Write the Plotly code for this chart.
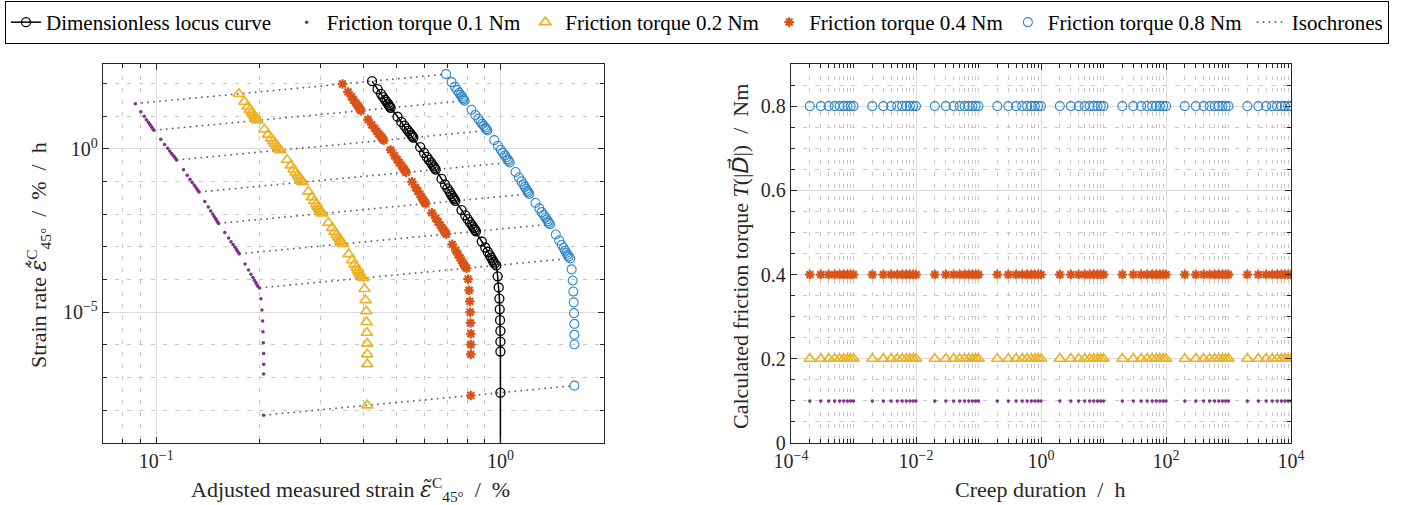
import plotly.graph_objects as go

# ------------------------------------------------------------------ data
# creep time grid (h) used in the right panel
creep_time_h = [2e-4, 3e-4, 4e-4, 5e-4, 6e-4, 7e-4, 8e-4, 9e-4, 1e-3,
                2e-3, 3e-3, 4e-3, 5e-3, 6e-3, 7e-3, 8e-3, 9e-3, 1e-2,
                2e-2, 3e-2, 4e-2, 5e-2, 6e-2, 7e-2, 8e-2, 9e-2, 1e-1,
                0.2, 0.3, 0.4, 0.5, 0.6, 0.7, 0.8, 0.9, 1.0,
                2.0, 3.0, 4.0, 5.0, 6.0, 7.0, 8.0, 9.0, 10.0,
                20.0, 30.0, 40.0, 50.0, 60.0, 70.0, 80.0, 90.0, 100.0,
                200.0, 300.0, 400.0, 500.0, 600.0, 700.0, 800.0, 900.0, 1000.0,
                2000.0, 3000.0, 4000.0, 5000.0, 6000.0, 7000.0, 8000.0, 9000.0, 10000.0]

# left panel points belong to creep times 1e-3 ... 1e4 h
strain_time_h = creep_time_h[8:]
isochrone_time_h = [1e-3, 1e-2, 1e-1, 1.0, 10.0, 100.0, 1000.0, 10000.0]

# friction torque levels (Nm) and calculated friction torque (right panel)
friction_torque_Nm = [0.1, 0.2, 0.4, 0.8]

# log10 of adjusted strain (%) and log10 of strain rate (%/h)
log10_strain_locus = [
    -0.373, -0.357, -0.347, -0.341, -0.335, -0.331, -0.327, -0.324, -0.322,
    -0.319, -0.299, -0.288, -0.279, -0.273, -0.268, -0.263, -0.259, -0.256,
    -0.253, -0.233, -0.222, -0.214, -0.208, -0.202, -0.198, -0.194, -0.191,
    -0.188, -0.171, -0.161, -0.154, -0.148, -0.144, -0.140, -0.137, -0.134,
    -0.131, -0.113, -0.102, -0.095, -0.089, -0.084, -0.080, -0.077, -0.074,
    -0.071, -0.054, -0.044, -0.037, -0.031, -0.027, -0.023, -0.020, -0.017,
    -0.012, -0.008, -0.005, -0.003, -0.002, -0.001, 0.000, 0.000, 0.000,
    0.000]
log10_rate_locus = [
    2.075, 1.830, 1.686, 1.584, 1.505, 1.441, 1.386, 1.339, 1.297,
    1.260, 0.986, 0.826, 0.712, 0.624, 0.552, 0.491, 0.438, 0.392,
    0.350, 0.055, -0.117, -0.240, -0.335, -0.412, -0.478, -0.535, -0.585,
    -0.630, -0.919, -1.088, -1.208, -1.301, -1.377, -1.441, -1.497, -1.546,
    -1.590, -1.870, -2.034, -2.150, -2.240, -2.314, -2.376, -2.430, -2.477,
    -2.520, -2.833, -3.016, -3.146, -3.247, -3.329, -3.399, -3.459, -3.512,
    -3.565, -3.900, -4.240, -4.580, -4.910, -5.240, -5.570, -5.900, -6.200,
    -7.460]
# the locus curve continues vertically at strain 1 towards vanishing strain rate
locus_end_log10_strain = 0.000
locus_end_log10_rate = -12.0

log10_strain_01 = [
    -1.061, -1.045, -1.035, -1.029, -1.023, -1.019, -1.015, -1.012, -1.010,
    -1.007, -0.987, -0.976, -0.967, -0.961, -0.956, -0.951, -0.947, -0.944,
    -0.941, -0.921, -0.910, -0.902, -0.896, -0.890, -0.886, -0.882, -0.879,
    -0.876, -0.859, -0.849, -0.842, -0.836, -0.832, -0.828, -0.825, -0.822,
    -0.819, -0.801, -0.790, -0.783, -0.777, -0.772, -0.768, -0.765, -0.762,
    -0.759, -0.742, -0.732, -0.725, -0.719, -0.715, -0.711, -0.708, -0.705,
    -0.700, -0.696, -0.693, -0.691, -0.690, -0.689, -0.688, -0.688, -0.688,
    -0.688]
log10_rate_01 = [
    1.387, 1.142, 0.998, 0.896, 0.817, 0.753, 0.698, 0.651, 0.609,
    0.572, 0.298, 0.138, 0.024, -0.064, -0.136, -0.197, -0.250, -0.296,
    -0.338, -0.633, -0.805, -0.928, -1.023, -1.100, -1.166, -1.223, -1.273,
    -1.318, -1.607, -1.776, -1.896, -1.989, -2.065, -2.129, -2.185, -2.234,
    -2.278, -2.558, -2.722, -2.838, -2.928, -3.002, -3.064, -3.118, -3.165,
    -3.208, -3.521, -3.704, -3.834, -3.935, -4.017, -4.087, -4.147, -4.200,
    -4.253, -4.588, -4.928, -5.268, -5.598, -5.928, -6.258, -6.588, -6.888,
    -8.148]

log10_strain_02 = [
    -0.760, -0.744, -0.734, -0.728, -0.722, -0.718, -0.714, -0.711, -0.709,
    -0.706, -0.686, -0.675, -0.666, -0.660, -0.655, -0.650, -0.646, -0.643,
    -0.640, -0.620, -0.609, -0.601, -0.595, -0.589, -0.585, -0.581, -0.578,
    -0.575, -0.558, -0.548, -0.541, -0.535, -0.531, -0.527, -0.524, -0.521,
    -0.518, -0.500, -0.489, -0.482, -0.476, -0.471, -0.467, -0.464, -0.461,
    -0.458, -0.441, -0.431, -0.424, -0.418, -0.414, -0.410, -0.407, -0.404,
    -0.399, -0.395, -0.392, -0.390, -0.389, -0.388, -0.387, -0.387, -0.387,
    -0.387]
log10_rate_02 = [
    1.688, 1.443, 1.299, 1.197, 1.118, 1.054, 0.999, 0.952, 0.910,
    0.873, 0.599, 0.439, 0.325, 0.237, 0.165, 0.104, 0.051, 0.005,
    -0.037, -0.332, -0.504, -0.627, -0.722, -0.799, -0.865, -0.922, -0.972,
    -1.017, -1.306, -1.475, -1.595, -1.688, -1.764, -1.828, -1.884, -1.933,
    -1.977, -2.257, -2.421, -2.537, -2.627, -2.701, -2.763, -2.817, -2.864,
    -2.907, -3.220, -3.403, -3.533, -3.634, -3.716, -3.786, -3.846, -3.899,
    -3.952, -4.287, -4.627, -4.967, -5.297, -5.627, -5.957, -6.287, -6.587,
    -7.847]

log10_strain_04 = [
    -0.459, -0.443, -0.433, -0.427, -0.421, -0.417, -0.413, -0.410, -0.408,
    -0.405, -0.385, -0.374, -0.365, -0.359, -0.354, -0.349, -0.345, -0.342,
    -0.339, -0.319, -0.308, -0.300, -0.294, -0.288, -0.284, -0.280, -0.277,
    -0.274, -0.257, -0.247, -0.240, -0.234, -0.230, -0.226, -0.223, -0.220,
    -0.217, -0.199, -0.188, -0.181, -0.175, -0.170, -0.166, -0.163, -0.160,
    -0.157, -0.140, -0.130, -0.123, -0.117, -0.113, -0.109, -0.106, -0.103,
    -0.098, -0.094, -0.091, -0.089, -0.088, -0.087, -0.086, -0.086, -0.086,
    -0.086]
log10_rate_04 = [
    1.989, 1.744, 1.600, 1.498, 1.419, 1.355, 1.300, 1.253, 1.211,
    1.174, 0.900, 0.740, 0.626, 0.538, 0.466, 0.405, 0.352, 0.306,
    0.264, -0.031, -0.203, -0.326, -0.421, -0.498, -0.564, -0.621, -0.671,
    -0.716, -1.005, -1.174, -1.294, -1.387, -1.463, -1.527, -1.583, -1.632,
    -1.676, -1.956, -2.120, -2.236, -2.326, -2.400, -2.462, -2.516, -2.563,
    -2.606, -2.919, -3.102, -3.232, -3.333, -3.415, -3.485, -3.545, -3.598,
    -3.651, -3.986, -4.326, -4.666, -4.996, -5.326, -5.656, -5.986, -6.286,
    -7.546]

log10_strain_08 = [
    -0.158, -0.142, -0.132, -0.126, -0.120, -0.116, -0.112, -0.109, -0.107,
    -0.104, -0.084, -0.073, -0.064, -0.058, -0.053, -0.048, -0.044, -0.041,
    -0.038, -0.018, -0.007, 0.001, 0.007, 0.013, 0.017, 0.021, 0.024,
    0.027, 0.044, 0.054, 0.061, 0.067, 0.071, 0.075, 0.078, 0.081,
    0.084, 0.102, 0.113, 0.120, 0.126, 0.131, 0.135, 0.138, 0.141,
    0.144, 0.161, 0.171, 0.178, 0.184, 0.188, 0.192, 0.195, 0.198,
    0.203, 0.207, 0.210, 0.212, 0.213, 0.214, 0.215, 0.215, 0.215,
    0.215]
log10_rate_08 = [
    2.290, 2.045, 1.901, 1.799, 1.720, 1.656, 1.601, 1.554, 1.512,
    1.475, 1.201, 1.041, 0.927, 0.839, 0.767, 0.706, 0.653, 0.607,
    0.565, 0.270, 0.098, -0.025, -0.120, -0.197, -0.263, -0.320, -0.370,
    -0.415, -0.704, -0.873, -0.993, -1.086, -1.162, -1.226, -1.282, -1.331,
    -1.375, -1.655, -1.819, -1.935, -2.025, -2.099, -2.161, -2.215, -2.262,
    -2.305, -2.618, -2.801, -2.931, -3.032, -3.114, -3.184, -3.244, -3.297,
    -3.350, -3.685, -4.025, -4.365, -4.695, -5.025, -5.355, -5.685, -5.985,
    -7.245]

# ------------------------------------------------------------------ styling
SERIF = "Liberation Serif, DejaVu Serif, serif"
MATHF = "DejaVu Serif, DejaVu Sans"
AX = "#262626"
C_PURPLE = "#7E2F8E"
C_YELLOW = "#EDB120"
C_RED = "#D95319"
C_BLUE = "#2E86C9"
W, H = 1402, 505


def lin(vals):
    return [10 ** v for v in vals]


fig = go.Figure()

# isochrones: connect the points of equal creep time across all curves
series_for_iso = [
    (log10_strain_01, log10_rate_01),
    (log10_strain_02, log10_rate_02),
    (log10_strain_04, log10_rate_04),
    (log10_strain_locus, log10_rate_locus),
    (log10_strain_08, log10_rate_08),
]
iso_x, iso_y = [], []
for t in isochrone_time_h:
    i = min(range(len(strain_time_h)), key=lambda j: abs(strain_time_h[j] - t) / t)
    for s, r in series_for_iso:
        iso_x.append(10 ** s[i])
        iso_y.append(10 ** r[i])
    iso_x.append(None)
    iso_y.append(None)

NB = "\u00a0"

fig.add_trace(go.Scatter(
    x=iso_x, y=iso_y, mode="lines", name="Isochrones", legendrank=6,
    line=dict(color="#5a5a5a", width=1.6, dash="1.6px,4.4px"), xaxis="x", yaxis="y"))

fig.add_trace(go.Scatter(
    x=lin(log10_strain_locus + [locus_end_log10_strain]),
    y=lin(log10_rate_locus + [locus_end_log10_rate]),
    mode="lines+markers", name="Dimensionless locus curve" + NB * 2, legendrank=1,
    line=dict(color="black", width=1.5),
    marker=dict(symbol="circle-open", size=9, color="black", line=dict(width=1.3)),
    xaxis="x", yaxis="y"))

fig.add_trace(go.Scatter(
    x=lin(log10_strain_01), y=lin(log10_rate_01), mode="markers",
    name="Friction torque 0.1 Nm", legendrank=2,
    marker=dict(symbol="circle", size=3.5, color=C_PURPLE), xaxis="x", yaxis="y"))
fig.add_trace(go.Scatter(
    x=lin(log10_strain_02), y=lin(log10_rate_02), mode="markers",
    name="Friction torque 0.2 Nm" + NB, legendrank=3,
    marker=dict(symbol="triangle-up-open", size=10, color=C_YELLOW, line=dict(width=1.6)),
    xaxis="x", yaxis="y"))
fig.add_trace(go.Scatter(
    x=lin(log10_strain_04), y=lin(log10_rate_04), mode="markers",
    name="Friction torque 0.4 Nm", legendrank=4,
    marker=dict(symbol="asterisk-open", size=8, color=C_RED, line=dict(width=2.2, color=C_RED)),
    xaxis="x", yaxis="y"))
fig.add_trace(go.Scatter(
    x=lin(log10_strain_08), y=lin(log10_rate_08), mode="markers",
    name="Friction torque 0.8 Nm" + NB, legendrank=5,
    marker=dict(symbol="circle-open", size=9, color=C_BLUE, line=dict(width=1.1)),
    xaxis="x", yaxis="y"))

# right panel: calculated friction torque over creep duration
right_styles = [
    dict(symbol="circle", size=3.5, color=C_PURPLE),
    dict(symbol="triangle-up-open", size=10, color=C_YELLOW, line=dict(width=1.6)),
    dict(symbol="asterisk-open", size=8, color=C_RED, line=dict(width=2.2, color=C_RED)),
    dict(symbol="circle-open", size=9, color=C_BLUE, line=dict(width=1.1)),
]
for torque, mk in zip(friction_torque_Nm, right_styles):
    fig.add_trace(go.Scatter(
        x=creep_time_h, y=[torque] * len(creep_time_h), mode="markers",
        marker=mk, showlegend=False, xaxis="x2", yaxis="y2"))

# ------------------------------------------------------------------ axes
def px_x(a, b):
    return [a / W, b / W]


ydom = [(H - 443) / H, (H - 64) / H]
tickfont = dict(family=SERIF, size=20, color=AX)
common = dict(showline=True, linecolor=AX, linewidth=1.3, mirror="allticks",
              ticks="inside", ticklen=6, tickcolor=AX, tickwidth=1,
              showgrid=True, gridcolor="#dcdcdc", gridwidth=1,
              zeroline=False, tickfont=tickfont, automargin=False)
minor_common = dict(ticks="inside", ticklen=3.5, tickcolor=AX, showgrid=True,
                    gridcolor="#c8c8c8", griddash="4px,8px", gridwidth=1)

left_x_minor = [0.08, 0.09, 0.2, 0.3, 0.4, 0.5, 0.6, 0.7, 0.8, 0.9, 2.0]
left_y_minor = [10.0 ** k for k in range(-8, 3) if k not in (-5, 0)]
right_x_minor = [m * 10.0 ** k for k in range(-4, 4) for m in range(2, 10)] + \
                [10.0 ** k for k in (-3, -1, 1, 3)]
right_y_minor = [round(0.05 * k, 2) for k in range(1, 18) if k % 4 != 0]

fig.update_layout(
    width=W, height=H, margin=dict(l=0, r=0, t=0, b=0),
    paper_bgcolor="white", plot_bgcolor="white",
    font=dict(family=SERIF, size=20, color=AX),
    xaxis=dict(type="log", domain=px_x(103, 604), anchor="y",
               range=[-1.1549, 0.30103],
               tickmode="array", tickvals=[0.1, 1.0],
               ticktext=["10<sup>\u22121</sup>", "10<sup>0</sup>"],
               minor=dict(tickmode="array", tickvals=left_x_minor, **minor_common),
               **common),
    yaxis=dict(type="log", domain=ydom, anchor="x",
               range=[-9, 2.6],
               tickmode="array", tickvals=[1e-5, 1.0],
               ticktext=["10<sup>\u22125</sup>", "10<sup>0</sup>"],
               minor=dict(tickmode="array", tickvals=left_y_minor, **minor_common),
               **common),
    xaxis2=dict(type="log", domain=px_x(791, 1291), anchor="y2",
                range=[-4, 4],
                tickmode="array", tickvals=[1e-4, 1e-2, 1.0, 1e2, 1e4],
                ticktext=["10<sup>\u22124</sup>", "10<sup>\u22122</sup>", "10<sup>0</sup>",
                          "10<sup>2</sup>", "10<sup>4</sup>"],
                minor=dict(tickmode="array", tickvals=right_x_minor, **minor_common),
                **common),
    yaxis2=dict(domain=ydom, anchor="x2", range=[0, 0.9],
                tickmode="array", tickvals=[0, 0.2, 0.4, 0.6, 0.8],
                ticktext=["0", "0.2", "0.4", "0.6", "0.8"],
                minor=dict(tickmode="array", tickvals=right_y_minor, **minor_common),
                **common),
    legend=dict(orientation="h", x=5 / W, y=1 - 1 / H, xanchor="left", yanchor="top",
                bordercolor="black", borderwidth=1, bgcolor="white",
                font=dict(family=SERIF, size=21, color="black"),
                itemwidth=30, tracegroupgap=0),
    showlegend=True,
)

eps = f'<span style="font-family:{MATHF}"><i>\u03b5\u0303</i></span>'
eps_dot = f'<span style="font-family:{MATHF}"><i>\u03b5\u0303\u0307</i></span>'
dvec = f'<span style="font-family:{MATHF}"><i>D\u20d7</i></span>'

title_font = dict(family=SERIF, size=22, color=AX)
annotations = [
    dict(text=f"Adjusted measured strain {eps}<sup>C</sup><sub>45\u00b0</sub>  /  %",
         x=350 / W, y=(H - 489) / H),
    dict(text="Creep duration  /  h", x=1040 / W, y=(H - 489) / H),
    dict(text=f"Strain rate {eps_dot}<sup>C</sup><sub>45\u00b0</sub>  /  %  /  h",
         x=38 / W, y=(H - 255) / H, textangle=-90),
    dict(text=f"Calculated friction torque <i>T</i>(|{dvec}|)  /  Nm",
         x=740 / W, y=(H - 256) / H, textangle=-90),
]
for a in annotations:
    a.update(xref="paper", yref="paper", showarrow=False, font=title_font,
             xanchor="center", yanchor="middle")
fig.update_layout(annotations=annotations)

fig.write_html("out.html")
